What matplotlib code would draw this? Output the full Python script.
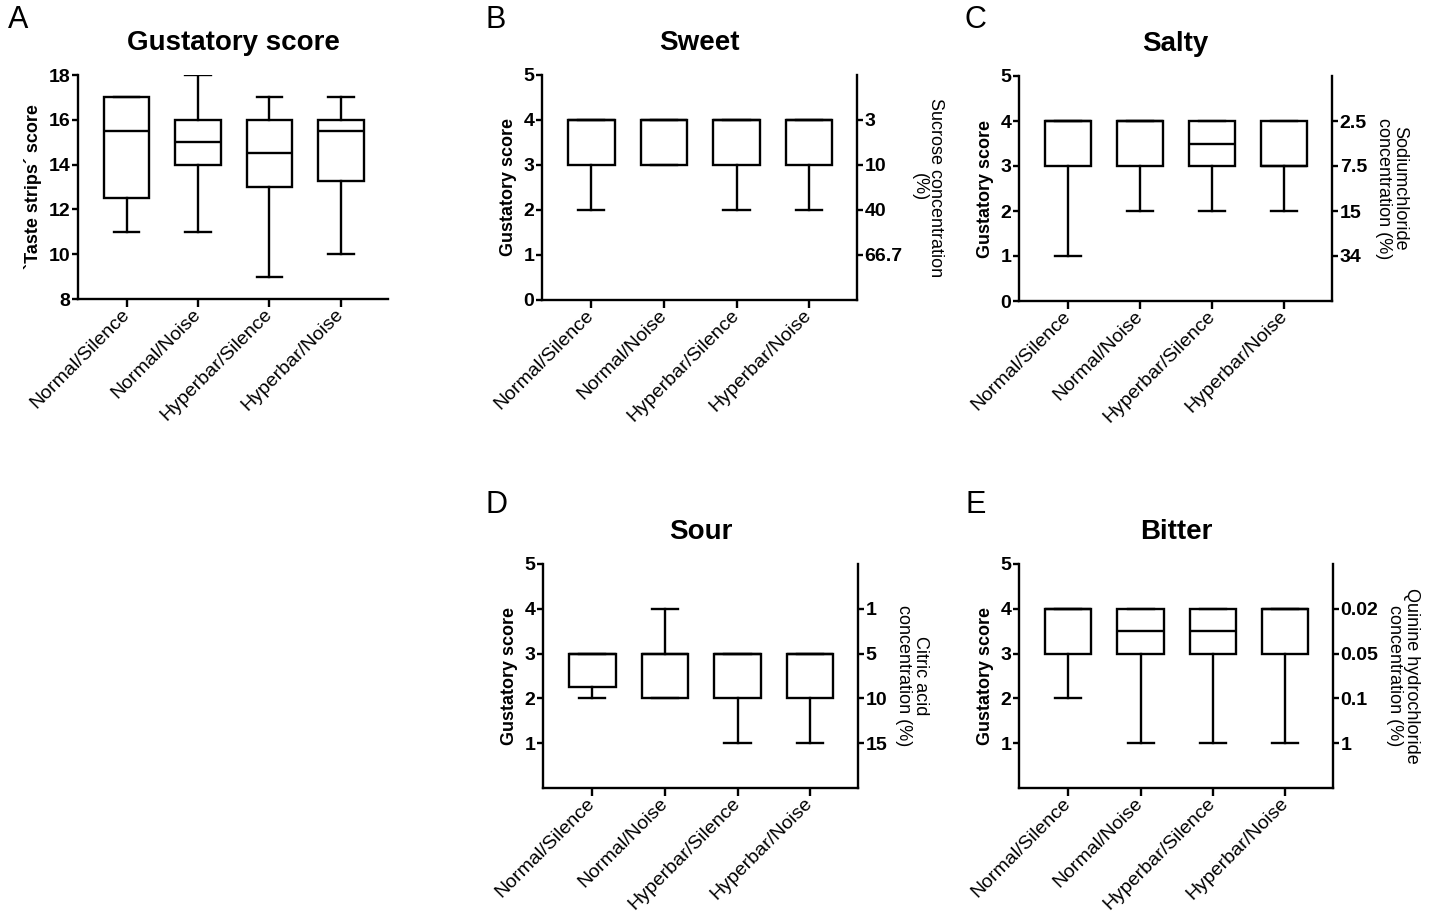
import matplotlib
matplotlib.use("Agg")
import matplotlib.pyplot as plt

plt.rcParams["font.family"] = ["Liberation Sans", "DejaVu Sans"]

groups = ["Normal/Silence", "Normal/Noise", "Hyperbar/Silence", "Hyperbar/Noise"]

# A - total taste strips score
total_q1 = [12.5, 14, 13, 13.25]
total_med = [15.5, 15, 14.5, 15.5]
total_q3 = [17, 16, 16, 16]
total_lo = [11, 11, 9, 10]
total_hi = [17, 18, 17, 17]

# B - sweet
sweet_q1 = [3, 3, 3, 3]
sweet_med = [4, 4, 4, 4]
sweet_q3 = [4, 4, 4, 4]
sweet_lo = [2, 3, 2, 2]
sweet_hi = [4, 4, 4, 4]
sweet_conc = ["3", "10", "40", "66.7"]

# C - salty
salty_q1 = [3, 3, 3, 3]
salty_med = [4, 4, 3.5, 3]
salty_q3 = [4, 4, 4, 4]
salty_lo = [1, 2, 2, 2]
salty_hi = [4, 4, 4, 4]
salty_conc = ["2.5", "7.5", "15", "34"]

# D - sour
sour_q1 = [2.25, 2, 2, 2]
sour_med = [3, 3, 3, 3]
sour_q3 = [3, 3, 3, 3]
sour_lo = [2, 2, 1, 1]
sour_hi = [3, 4, 3, 3]
sour_conc = ["1", "5", "10", "15"]

# E - bitter
bitter_q1 = [3, 3, 3, 3]
bitter_med = [4, 3.5, 3.5, 4]
bitter_q3 = [4, 4, 4, 4]
bitter_lo = [2, 1, 1, 1]
bitter_hi = [4, 4, 4, 4]
bitter_conc = ["0.02", "0.05", "0.1", "1"]

conc_levels = [4, 3, 2, 1]

W, H = 1435, 915
fig = plt.figure(figsize=(W / 100, H / 100), dpi=100)


def rect(l, r, t, b):
    return [l / W, 1 - b / H, (r - l) / W, (b - t) / H]


LW = 1.7
TICK_FS = 14


def style_axis(ax):
    for s in ["top", "right"]:
        ax.spines[s].set_visible(False)
    for s in ["left", "bottom"]:
        ax.spines[s].set_linewidth(LW)
    ax.tick_params(axis="y", length=4.5, width=LW, labelsize=TICK_FS, pad=1)
    ax.tick_params(axis="x", length=6, width=LW, labelsize=14, pad=3)
    for t in ax.get_yticklabels():
        t.set_fontweight("bold")


def boxes(ax, q1, med, q3, lo, hi):
    stats = []
    for i in range(len(groups)):
        stats.append(dict(q1=q1[i], med=med[i], q3=q3[i],
                          whislo=lo[i], whishi=hi[i], fliers=[]))
    kw = dict(color="black", linewidth=LW)
    ax.bxp(stats, positions=range(len(groups)), widths=0.64, capwidths=0.36,
           showfliers=False, patch_artist=True,
           boxprops=dict(facecolor="white", edgecolor="black", linewidth=LW),
           whiskerprops=kw, capprops=kw, medianprops=kw)
    ax.set_xlim(-0.68, 3.66)
    ax.set_xticks(range(len(groups)))
    ax.set_xticklabels(groups, rotation=45, ha="right", va="center",
                       rotation_mode="anchor")


def panel(box, title, q1, med, q3, lo, hi, conc, conc_label, yticks):
    ax = fig.add_axes(box)
    boxes(ax, q1, med, q3, lo, hi)
    ax.set_ylim(0, 5)
    ax.set_yticks(yticks)
    style_axis(ax)
    ax.set_ylabel("Gustatory score", fontsize=13, fontweight="bold", labelpad=5)
    ax.set_title(title, fontsize=20, fontweight="bold", pad=18)
    ax2 = ax.twinx()
    ax2.set_ylim(0, 5)
    for s in ["top", "left", "bottom"]:
        ax2.spines[s].set_visible(False)
    ax2.spines["right"].set_linewidth(LW)
    ax2.set_yticks(conc_levels)
    ax2.set_yticklabels(conc, fontweight="bold", fontsize=TICK_FS)
    ax2.tick_params(axis="y", length=4.5, width=LW, pad=1)
    ax2.set_ylabel(conc_label, fontsize=13, rotation=270, labelpad=30,
                   linespacing=1.0)
    return ax


# A
axA = fig.add_axes(rect(78, 388, 75, 299))
boxes(axA, total_q1, total_med, total_q3, total_lo, total_hi)
axA.set_ylim(8, 18)
axA.set_yticks([8, 10, 12, 14, 16, 18])
style_axis(axA)
axA.set_ylabel("`Taste strips´ score", fontsize=13, fontweight="bold", labelpad=5)
axA.set_title("Gustatory score", fontsize=20, fontweight="bold", pad=18)

panel(rect(542, 857, 75, 300), "Sweet", sweet_q1, sweet_med, sweet_q3,
      sweet_lo, sweet_hi, sweet_conc, "Sucrose concentration\n(%)", range(6))
panel(rect(1019, 1332, 76, 301), "Salty", salty_q1, salty_med, salty_q3,
      salty_lo, salty_hi, salty_conc, "Sodiumchloride\nconcentration (%)", range(6))
panel(rect(543, 858, 564, 788), "Sour", sour_q1, sour_med, sour_q3,
      sour_lo, sour_hi, sour_conc, "Citric acid\nconcentration (%)", range(1, 6))
panel(rect(1019, 1333, 564, 788), "Bitter", bitter_q1, bitter_med, bitter_q3,
      bitter_lo, bitter_hi, bitter_conc,
      "Quinine hydrochloride\nconcentration (%)", range(1, 6))

for letter, x, y in [("A", 8, 20), ("B", 486, 20), ("C", 965, 20),
                     ("D", 486, 505), ("E", 965, 505)]:
    fig.text(x / W, 1 - y / H, letter, fontsize=22, ha="left", va="center")

fig.savefig("out.png", dpi=100)
